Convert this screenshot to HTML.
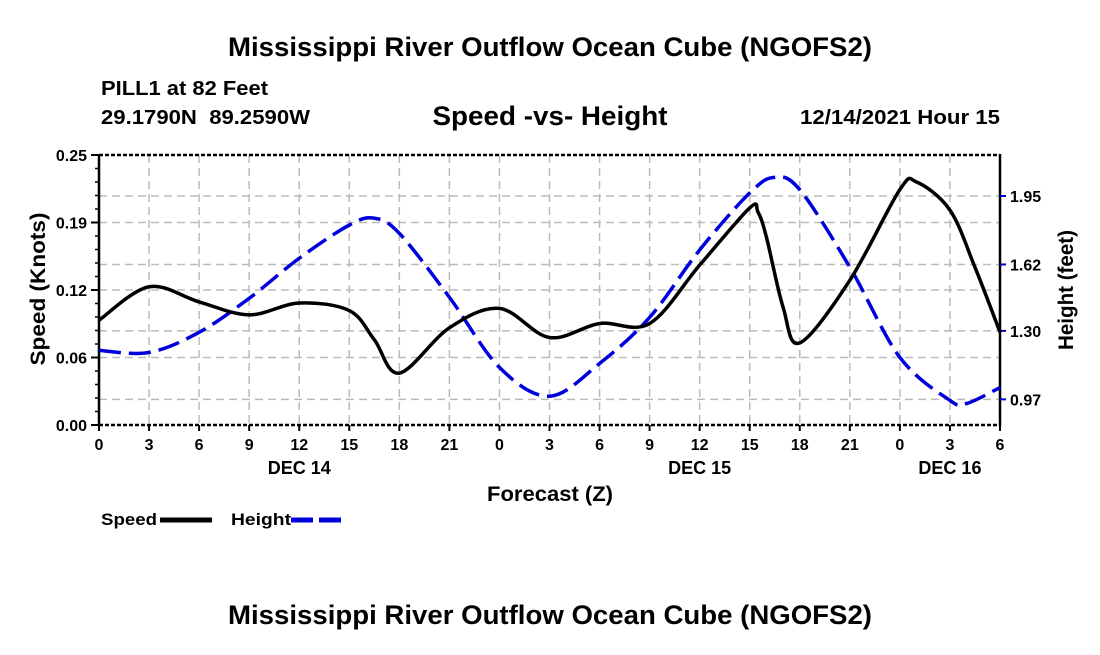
<!DOCTYPE html>
<html><head><meta charset="utf-8"><style>
body{margin:0;background:#fff;}
svg text{font-family:"Liberation Sans",Arial,sans-serif;font-weight:bold;fill:#000;white-space:pre;}
</style></head><body>
<svg id="chart" width="1100" height="650" viewBox="0 0 1100 650" xmlns="http://www.w3.org/2000/svg">
<rect width="1100" height="650" fill="#fff"/>
<text x="550" y="56" font-size="27" text-anchor="middle" textLength="644" lengthAdjust="spacingAndGlyphs">Mississippi River Outflow Ocean Cube (NGOFS2)</text>
<text x="101" y="95" font-size="20" textLength="167" lengthAdjust="spacingAndGlyphs">PILL1 at 82 Feet</text>
<text x="101" y="124" font-size="20" textLength="209" lengthAdjust="spacingAndGlyphs">29.1790N  89.2590W</text>
<text x="550" y="125" font-size="27" text-anchor="middle" textLength="235" lengthAdjust="spacingAndGlyphs">Speed -vs- Height</text>
<text x="1000" y="124" font-size="20" text-anchor="end" textLength="200" lengthAdjust="spacingAndGlyphs">12/14/2021 Hour 15</text>
<g id="grid"></g>
<g id="axes"></g>
<g id="series"></g>
<text x="550" y="501" font-size="21" text-anchor="middle" textLength="126" lengthAdjust="spacingAndGlyphs">Forecast (Z)</text>
<text transform="translate(45,289) rotate(-90)" font-size="21" text-anchor="middle" textLength="153" lengthAdjust="spacingAndGlyphs">Speed (Knots)</text>
<text transform="translate(1073,290) rotate(-90)" font-size="21" text-anchor="middle" textLength="120" lengthAdjust="spacingAndGlyphs">Height (feet)</text>
<g>
<text x="101" y="525" font-size="17" textLength="56" lengthAdjust="spacingAndGlyphs">Speed</text>
<line x1="160" y1="520" x2="212" y2="520" stroke="#000" stroke-width="5"/>
<text x="231" y="525" font-size="17" textLength="60" lengthAdjust="spacingAndGlyphs">Height</text>
<line x1="291" y1="520" x2="342" y2="520" stroke="#0000dd" stroke-width="5" stroke-dasharray="22,6"/>
</g>
<text x="550" y="624" font-size="27" text-anchor="middle" textLength="644" lengthAdjust="spacingAndGlyphs">Mississippi River Outflow Ocean Cube (NGOFS2)</text>
</svg>
<script>
const speedHours=[0,3,6,9,12,15,16.5,18,21,24,27,30,33,36,39,39.5,40,41,42,45,48,49,51,52.5,54];
const speedValues=[0.097,0.128,0.114,0.102,0.113,0.106,0.079,0.048,0.090,0.108,0.081,0.094,0.094,0.148,0.201,0.197,0.174,0.109,0.076,0.134,0.218,0.225,0.199,0.146,0.086];
const heightHours=[0,3,6,9,12,15,16.5,18,21,24,27,30,33,36,39,40.5,42,45,48,51,52,54];
const heightValues=[1.206,1.196,1.293,1.457,1.65,1.81,1.843,1.77,1.462,1.124,0.985,1.143,1.365,1.69,1.965,2.04,1.98,1.607,1.172,0.965,0.95,1.027];
const xTickLabels=["0","3","6","9","12","15","18","21","0","3","6","9","12","15","18","21","0","3","6"];
const dayLabels=["DEC 14","DEC 15","DEC 16"];
const dayHours=[12,36,51];
const leftTicks=[0,0.0625,0.125,0.1875,0.25];
const leftTickLabels=["0.00","0.06","0.12","0.19","0.25"];
const rightTicks=[0.97,1.30,1.62,1.95];
const rightTickLabels=["0.97","1.30","1.62","1.95"];

const NS="http://www.w3.org/2000/svg";
const X0=99,X1=1000,Y0=425,Y1=155;
const xs=h=>X0+(h/54)*(X1-X0);
const yL=v=>Y0-(v/0.25)*(Y0-Y1);
const yR=v=>196+(1.95-v)*207.5;
function mk(tag,attrs,parent){const e=document.createElementNS(NS,tag);for(const k in attrs)e.setAttribute(k,attrs[k]);parent.appendChild(e);return e;}
const grid=document.getElementById('grid'),axes=document.getElementById('axes'),series=document.getElementById('series');
const gs={stroke:"#bbb","stroke-width":1.5,"stroke-dasharray":"8,5"};
for(let i=1;i<18;i++){const x=xs(i*3);const l=mk('line',Object.assign({x1:x,y1:Y1,x2:x,y2:Y0},gs),grid);

}
const hy=[];leftTicks.slice(1,4).forEach(v=>hy.push(yL(v)));rightTicks.forEach(v=>hy.push(yR(v)));
hy.forEach(y=>{const l=mk('line',Object.assign({x1:X0,y1:y,x2:X1,y2:y},gs),grid);

});
[[X0,Y1,X1,Y1],[X0,Y0,X1,Y0]].forEach(c=>{const l=mk('line',{x1:c[0],y1:c[1],x2:c[2],y2:c[3],stroke:"#000","stroke-width":2.5,"stroke-dasharray":"4,2"},axes);

});
[[X0],[X1]].forEach(c=>{const l=mk('line',{x1:c[0],y1:Y1-1,x2:c[0],y2:Y0+1,stroke:"#000","stroke-width":2.5},axes);

});
for(let v=0;v<=0.2501;v+=0.0125){mk('line',{x1:X0-4,y1:yL(v),x2:X0,y2:yL(v),stroke:"#000","stroke-width":1.5},axes);}
leftTicks.forEach((v,i)=>{mk('line',{x1:X0-8,y1:yL(v),x2:X0,y2:yL(v),stroke:"#000","stroke-width":2},axes);
const t=mk('text',{x:X0-12,y:yL(v)+6,"font-size":16,"text-anchor":"end"},axes);t.textContent=leftTickLabels[i];

});
rightTicks.forEach((v,i)=>{mk('line',{x1:X1,y1:yR(v),x2:X1+6,y2:yR(v),stroke:"#0000cc","stroke-width":2},axes);
const t=mk('text',{x:X1+10,y:yR(v)+6,"font-size":16},axes);t.textContent=rightTickLabels[i];

});
xTickLabels.forEach((s,i)=>{const x=xs(i*3);mk('line',{x1:x,y1:Y0,x2:x,y2:Y0+6,stroke:"#000","stroke-width":2},axes);
const t=mk('text',{x:x,y:450,"font-size":16,"text-anchor":"middle"},axes);t.textContent=s;

});
dayLabels.forEach((s,i)=>{const t=mk('text',{x:xs(dayHours[i]),y:474,"font-size":18,"text-anchor":"middle"},axes);t.textContent=s;

});
function path(hs,vs,fy){const p=hs.map((h,i)=>[xs(h),fy(vs[i])]);let d="M"+p[0][0]+","+p[0][1];
for(let i=0;i<p.length-1;i++){const a=p[Math.max(0,i-1)],b=p[i],c=p[i+1],e=p[Math.min(p.length-1,i+2)];
const c1=[b[0]+(c[0]-a[0])/6,b[1]+(c[1]-a[1])/6],c2=[c[0]-(e[0]-b[0])/6,c[1]-(e[1]-b[1])/6];
d+=" C"+c1+" "+c2+" "+c;}return d;}
const hp=mk('path',{d:path(heightHours,heightValues,yR),fill:"none",stroke:"#0000dd","stroke-width":3.5,"stroke-dasharray":"22,8"},series);


const sp=mk('path',{d:path(speedHours,speedValues,yL),fill:"none",stroke:"#000","stroke-width":3.5},series);


</script>
</body></html>
